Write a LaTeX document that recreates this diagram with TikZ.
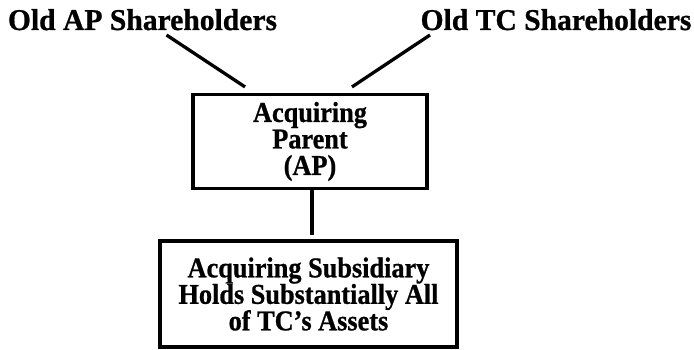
\documentclass[tikz,border=0pt]{standalone}
\usepackage{fontspec}
\setmainfont{Liberation Serif}
\newfontfamily\holderfont{Liberation Serif Bold}[Ligatures=TeX,FakeStretch=0.98,FakeBold=0.8]
\newfontfamily\entityfont{Liberation Serif Bold}[Ligatures=TeX,FakeStretch=0.916,FakeBold=0.8]
\usetikzlibrary{positioning}

\begin{document}
\begin{tikzpicture}[x=1pt,y=-1pt,
    holder/.style={font=\holderfont\fontsize{30.2}{30}\selectfont, inner sep=0pt, anchor=base},
    entity/.style={draw, line width=3.2pt, align=center, inner sep=0pt,
        font=\entityfont\fontsize{28.7}{26.5}\selectfont},
    link/.style={line width=3.3pt}]
    \useasboundingbox (0,0) rectangle (694,350);

    % Shareholder groups on top
    \node[holder] (apholders) at (142.5,30) {Old AP Shareholders};
    \node[holder] (tcholders) at (556,30) {Old TC Shareholders};

    % Parent and its subsidiary
    \node[entity, minimum width=234pt, minimum height=94pt] (parent) at (310,141.5)
        {Acquiring\\Parent\\(AP)};
    \node[entity, minimum width=297pt, minimum height=106pt] (subsidiary) at (308.5,294)
        {Acquiring Subsidiary\\Holds Substantially All\\of TC's Assets};

    % Ownership lines
    \draw[link] ([xshift=24pt,yshift=-5pt]apholders.base) -- ([xshift=-65pt,yshift=6pt]parent.north);
    \draw[link] ([xshift=-126pt,yshift=-5pt]tcholders.base) -- ([xshift=42pt,yshift=6pt]parent.north);
    \draw[link, shorten >=4pt] ([xshift=2pt]parent.south) -- ([xshift=2pt]parent.south |- subsidiary.north);
\end{tikzpicture}
\end{document}
